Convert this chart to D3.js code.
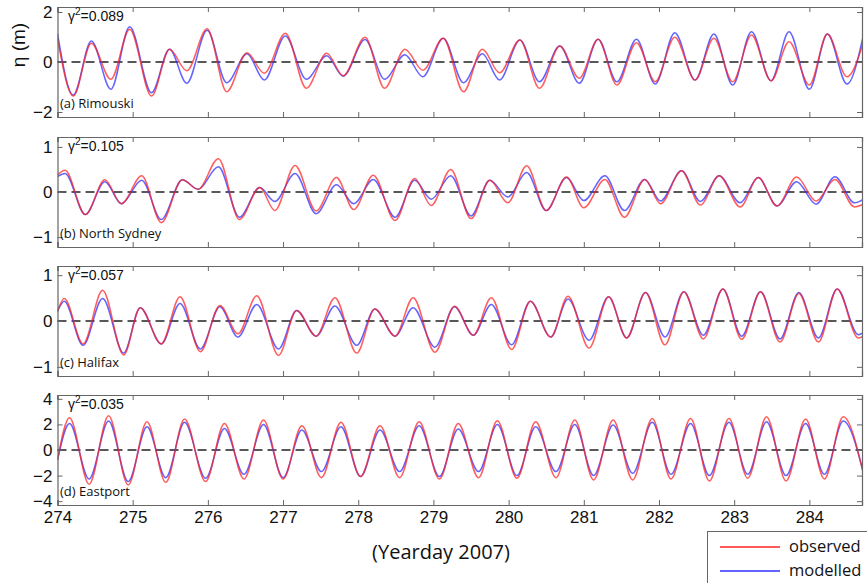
<!DOCTYPE html>
<html><head><meta charset="utf-8">
<script src="https://cdn.jsdelivr.net/npm/d3@7/dist/d3.min.js"></script>
<style>body{margin:0;background:#fff}svg{display:block}</style>
</head><body>
<svg id="chart" width="867" height="583"></svg>
<script>
// ---------- data (extrema) ----------
const tA = [274.00,274.21,274.45,274.71,274.96,275.25,275.49,275.72,275.99,276.25,276.52,276.75,277.03,277.31,277.58,277.80,278.09,278.35,278.62,278.86,279.13,279.40,279.65,279.88,280.15,280.41,280.68,280.94,281.19,281.44,281.70,281.95,282.21,282.48,282.73,282.98,283.23,283.49,283.73,284.00,284.24,284.50,284.72];
const obsA = [0.95,-1.36,0.75,-0.69,1.31,-1.36,0.51,-0.35,1.33,-1.19,0.37,-0.45,1.15,-1.05,0.35,-0.55,0.99,-1.05,0.51,-0.33,0.95,-1.19,0.51,-0.43,0.88,-1.05,0.64,-0.65,0.91,-0.92,0.77,-0.79,0.99,-0.72,0.95,-0.79,1.08,-0.75,0.81,-0.92,1.12,-0.59,0.80];
const modA = [1.13,-1.32,0.84,-1.09,1.41,-1.23,0.51,-0.85,1.27,-0.83,0.33,-0.72,1.04,-0.69,0.25,-0.57,0.90,-0.69,0.29,-0.59,0.95,-0.83,0.33,-0.72,0.88,-0.79,0.64,-0.85,0.91,-0.79,0.91,-0.88,1.17,-0.72,1.12,-0.92,1.21,-0.75,1.21,-1.09,1.12,-0.88,1.09];

const tB = [274.00,274.10,274.37,274.63,274.85,275.12,275.38,275.66,275.87,276.14,276.42,276.69,276.89,277.16,277.44,277.71,277.94,278.20,278.49,278.75,278.97,279.23,279.50,279.75,279.99,280.24,280.50,280.77,281.00,281.28,281.54,281.81,282.02,282.30,282.55,282.80,283.08,283.32,283.57,283.83,284.09,284.34,284.60,284.72];
const obsB = [0.38,0.48,-0.50,0.27,-0.26,0.36,-0.68,0.27,0.06,0.74,-0.61,0.10,-0.41,0.59,-0.42,0.32,-0.39,0.37,-0.63,0.30,-0.30,0.50,-0.59,0.26,-0.24,0.58,-0.41,0.33,-0.35,0.28,-0.56,0.28,-0.26,0.47,-0.29,0.36,-0.33,0.32,-0.31,0.33,-0.20,0.28,-0.33,-0.27];
const modB = [0.34,0.41,-0.50,0.23,-0.26,0.26,-0.61,0.27,0.06,0.56,-0.56,0.10,-0.21,0.41,-0.48,0.16,-0.26,0.28,-0.56,0.26,-0.16,0.36,-0.53,0.26,-0.11,0.43,-0.41,0.32,-0.19,0.36,-0.41,0.28,-0.20,0.47,-0.21,0.36,-0.24,0.32,-0.31,0.23,-0.27,0.34,-0.24,-0.16];

const tC = [274.00,274.09,274.34,274.60,274.88,275.10,275.38,275.63,275.90,276.16,276.40,276.65,276.94,277.18,277.44,277.69,277.98,278.22,278.49,278.73,279.02,279.28,279.53,279.77,280.04,280.29,280.56,280.79,281.07,281.33,281.57,281.82,282.08,282.33,282.59,282.85,283.10,283.35,283.61,283.86,284.12,284.37,284.65,284.72];
const obsC = [0.21,0.49,-0.50,0.67,-0.74,0.29,-0.50,0.53,-0.67,0.34,-0.28,0.55,-0.75,0.23,-0.33,0.51,-0.70,0.26,-0.33,0.51,-0.68,0.32,-0.31,0.51,-0.62,0.43,-0.35,0.54,-0.59,0.53,-0.37,0.62,-0.52,0.64,-0.39,0.70,-0.40,0.64,-0.46,0.60,-0.46,0.70,-0.37,-0.33];
const modC = [0.21,0.43,-0.53,0.49,-0.70,0.29,-0.50,0.38,-0.61,0.31,-0.35,0.36,-0.61,0.23,-0.33,0.33,-0.53,0.26,-0.33,0.29,-0.57,0.31,-0.31,0.36,-0.52,0.43,-0.35,0.48,-0.42,0.53,-0.37,0.62,-0.35,0.64,-0.31,0.70,-0.33,0.64,-0.39,0.62,-0.37,0.70,-0.30,-0.25];

const tD = [274.00,274.16,274.42,274.68,274.94,275.19,275.44,275.69,275.97,276.22,276.48,276.74,277.00,277.25,277.51,277.77,278.03,278.29,278.55,278.81,279.08,279.33,279.60,279.85,280.11,280.36,280.63,280.88,281.13,281.39,281.65,281.91,282.16,282.42,282.67,282.93,283.18,283.43,283.69,283.95,284.20,284.45,284.72];
const obsD = [-0.78,2.53,-2.68,2.68,-2.73,2.21,-2.53,2.42,-2.47,2.08,-2.27,2.34,-2.27,1.90,-2.16,2.16,-2.08,1.90,-2.16,2.21,-2.27,2.08,-2.16,2.29,-2.21,2.21,-2.16,2.34,-2.34,2.34,-2.34,2.47,-2.26,2.47,-2.42,2.47,-2.21,2.60,-2.42,2.42,-2.26,2.60,-1.90];
const modD = [-0.78,2.08,-2.27,2.27,-2.47,1.82,-2.16,2.16,-2.21,1.69,-1.90,2.00,-2.16,1.56,-1.69,1.82,-2.08,1.56,-1.69,1.90,-2.08,1.64,-1.69,2.00,-2.00,1.82,-1.69,2.00,-2.00,1.95,-1.82,2.16,-1.90,2.08,-2.00,2.16,-1.90,2.21,-2.00,2.08,-1.90,2.26,-1.80];

const xTicks = [274,275,276,277,278,279,280,281,282,283,284];
const panelNames = ["(a) Rimouski","(b) North Sydney","(c) Halifax","(d) Eastport"];
const gammaVals = ["0.089","0.105","0.057","0.035"];
const yTicksA = [-2,0,2], yTicksB = [-1,0,1], yTicksC = [-1,0,1], yTicksD = [-4,-2,0,2,4];
const yDomains = [[-2.2,2.2],[-1.22,1.22],[-1.2,1.2],[-4.3,4.3]];
const seriesNames = ["observed","modelled"];
const seriesColors = ["#ff2020","#3030ff"];

// ---------- layout ----------
const svg = d3.select("#chart");
const left = 57.5, right = 862;
const panelTops = [7, 137, 266, 395];
const panelH = 110;
const frameCol = "#666";
const numFont = "'Liberation Sans', Arial, sans-serif";
const txtFont = "'Open Sans', 'Noto Sans', sans-serif";

const x = d3.scaleLinear().domain([274, 284.7]).range([left, right]);

const panels = [
  {t:tA, obs:obsA, mod:modA, ticks:yTicksA},
  {t:tB, obs:obsB, mod:modB, ticks:yTicksB},
  {t:tC, obs:obsC, mod:modC, ticks:yTicksC},
  {t:tD, obs:obsD, mod:modD, ticks:yTicksD}
];

const defs = svg.append("defs");

panels.forEach((p, i) => {
  const top = panelTops[i];
  const y = d3.scaleLinear().domain(yDomains[i]).range([top + panelH, top]);
  const g = svg.append("g");

  defs.append("clipPath").attr("id", "clip" + i)
    .append("rect").attr("x", left).attr("y", top).attr("width", right - left).attr("height", panelH);

  g.append("line").attr("x1", left).attr("x2", right).attr("y1", y(0)).attr("y2", y(0))
    .attr("stroke", "#222").attr("stroke-width", 1.3).attr("stroke-dasharray", "9,5");

  const line = d3.line().x(d => x(d[0])).y(d => y(d[1])).curve(d3.curveMonotoneX);
  const lg = g.append("g").attr("clip-path", `url(#clip${i})`);
  lg.append("path").datum(p.t.map((t, k) => [t, p.mod[k]]))
    .attr("d", line).attr("fill", "none").attr("stroke", seriesColors[1])
    .attr("stroke-width", 1.5).attr("stroke-opacity", 0.75);
  lg.append("path").datum(p.t.map((t, k) => [t, p.obs[k]]))
    .attr("d", line).attr("fill", "none").attr("stroke", seriesColors[0])
    .attr("stroke-width", 1.5).attr("stroke-opacity", 0.72);

  const bottom = d3.axisBottom(x).tickValues(xTicks).tickSize(-5).tickFormat(i === 3 ? d3.format("d") : "");
  const topAx = d3.axisTop(x).tickValues(xTicks).tickSize(-5).tickFormat("");
  const leftAx = d3.axisLeft(y).tickValues(p.ticks).tickSize(-5).tickFormat(d3.format("d"));
  const rightAx = d3.axisRight(y).tickValues(p.ticks).tickSize(-5).tickFormat("");

  const ax = [
    g.append("g").attr("transform", `translate(0,${top + panelH})`).call(bottom),
    g.append("g").attr("transform", `translate(0,${top})`).call(topAx),
    g.append("g").attr("transform", `translate(${left},0)`).call(leftAx),
    g.append("g").attr("transform", `translate(${right},0)`).call(rightAx)
  ];
  ax.forEach(a => {
    a.select(".domain").attr("stroke", frameCol).attr("stroke-width", 1.2);
    a.selectAll(".tick line").attr("stroke", frameCol).attr("stroke-width", 1);
    a.selectAll("text").attr("fill", "#111").style("font-family", numFont).style("font-size", "17px");
  });
  ax[2].selectAll("text").attr("x", -5);
  if (i === 3) ax[0].selectAll("text").attr("y", 6);

  const gt = g.append("text").attr("x", 68).attr("y", top + 14)
    .style("font-family", numFont).style("font-size", "14px").attr("fill", "#111");
  gt.append("tspan").text("γ");
  gt.append("tspan").attr("dy", -6).style("font-size", "10px").text("2");
  gt.append("tspan").attr("dy", 6).text("=" + gammaVals[i]);

  g.append("text").attr("x", 60).attr("y", top + panelH - 9)
    .style("font-family", txtFont).style("font-size", "13px").attr("fill", "#111")
    .text(panelNames[i]);
});

svg.append("text").attr("transform", "translate(25,45) rotate(-90)")
  .attr("text-anchor", "middle").style("font-family", numFont).style("font-size", "19px").attr("fill", "#111")
  .text("η (m)");

svg.append("text").attr("x", 441).attr("y", 559).attr("text-anchor", "middle")
  .style("font-family", txtFont).style("font-size", "20px").attr("fill", "#111")
  .text("(Yearday 2007)");

const leg = svg.append("g");
leg.append("rect").attr("x", 707.5).attr("y", 531.5).attr("width", 170).attr("height", 60)
  .attr("fill", "#fff").attr("stroke", frameCol).attr("stroke-width", 1);
seriesNames.forEach((n, k) => {
  const yy = 547 + k * 24;
  leg.append("line").attr("x1", 720).attr("x2", 780).attr("y1", yy).attr("y2", yy)
    .attr("stroke", seriesColors[k]).attr("stroke-width", 1.3);
  leg.append("text").attr("x", 789).attr("y", yy + 5)
    .style("font-family", txtFont).style("font-size", "16.5px").attr("fill", "#111").text(n);
});
</script>
</body></html>
